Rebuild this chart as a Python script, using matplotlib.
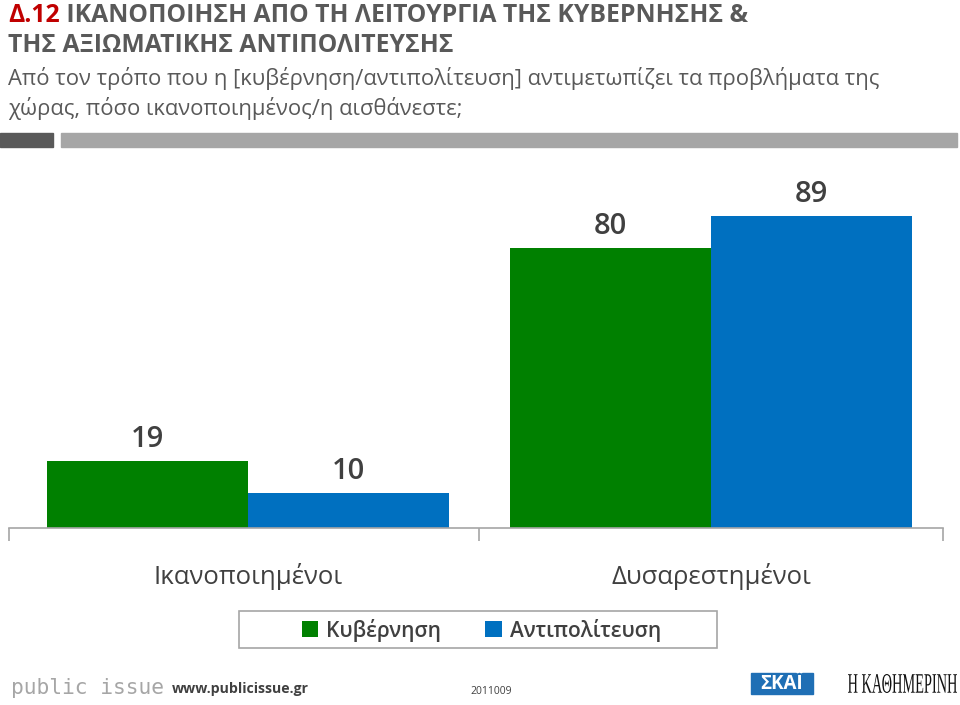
import matplotlib.pyplot as plt
from matplotlib.patches import Rectangle, PathPatch
from matplotlib.textpath import TextPath
from matplotlib.font_manager import FontProperties
from matplotlib.transforms import Affine2D

# ---------------------------------------------------------------------------
# DATA
# ---------------------------------------------------------------------------
categories = ["Ικανοποιημένοι", "Δυσαρεστημένοι"]
series_names = ["Κυβέρνηση", "Αντιπολίτευση"]
gov_values = [19, 80]
opp_values = [10, 89]

GREEN = "#008000"
BLUE = "#0070C0"
GRAY_TXT = "#595959"
VAL_TXT = "#404040"

plt.rcParams["font.family"] = ["Open Sans", "DejaVu Sans"]

fig = plt.figure(figsize=(9.6, 7.05), dpi=100)
W, H = 960, 705


def fx(px):
    return px / W


def fy(py):
    return 1 - py / H


# ---------------------------------------------------------------------------
# TITLE BLOCK
# ---------------------------------------------------------------------------
t1 = fig.text(fx(8), fy(22), "Δ.12", color="#C00000", fontsize=17.8,
              fontweight="bold", va="baseline", ha="left")
ax_dummy = fig.add_axes([0, 0, 1, 1], frameon=False)
ax_dummy.set_axis_off()
ax_dummy.annotate(" ΙΚΑΝΟΠΟΙΗΣΗ ΑΠΟ ΤΗ ΛΕΙΤΟΥΡΓΙΑ ΤΗΣ ΚΥΒΕΡΝΗΣΗΣ &",
                  xy=(1, 0), xycoords=t1, va="bottom", ha="left",
                  color=GRAY_TXT, fontsize=17.8, fontweight="bold")
fig.text(fx(8), fy(52), "ΤΗΣ ΑΞΙΩΜΑΤΙΚΗΣ ΑΝΤΙΠΟΛΙΤΕΥΣΗΣ", color=GRAY_TXT,
         fontsize=17.8, fontweight="bold", va="baseline")
fig.text(fx(8), fy(85),
         "Από τον τρόπο που η [κυβέρνηση/αντιπολίτευση] αντιμετωπίζει τα προβλήματα της",
         color=GRAY_TXT, fontsize=15.8, va="baseline")
fig.text(fx(8), fy(115), "χώρας, πόσο ικανοποιημένος/η αισθάνεστε;",
         color=GRAY_TXT, fontsize=15.8, va="baseline")

# separator bars under the title
fig.patches.append(Rectangle((fx(0), fy(147)), fx(53), 14 / H,
                             transform=fig.transFigure, color="#595959"))
fig.patches.append(Rectangle((fx(61), fy(147)), fx(896), 14 / H,
                             transform=fig.transFigure, color="#A6A6A6"))

# ---------------------------------------------------------------------------
# BAR CHART
# ---------------------------------------------------------------------------
ax = fig.add_axes([fx(9), fy(528), fx(934), 350.6 / H])
x = range(len(categories))
width = 0.434

b1 = ax.bar([i - width / 2 for i in x], gov_values, width, color=GREEN,
            label=series_names[0])
b2 = ax.bar([i + width / 2 for i in x], opp_values, width, color=BLUE,
            label=series_names[1])

for bars in (b1, b2):
    for rect in bars:
        ax.annotate(f"{rect.get_height():.0f}",
                    xy=(rect.get_x() + rect.get_width() / 2, rect.get_height()),
                    xytext=(0, 5), textcoords="offset points",
                    ha="center", va="bottom", fontsize=21,
                    fontweight="semibold", color=VAL_TXT)

ax.set_xlim(-0.515, 1.5)
ax.set_ylim(0, 100)
ax.set_yticks([])
for s in ("top", "right", "left"):
    ax.spines[s].set_visible(False)
ax.spines["bottom"].set_color("#A6A6A6")
ax.spines["bottom"].set_linewidth(1.2)

ax.set_xticks([-0.515, 0.5, 1.5])
ax.set_xticklabels([])
ax.tick_params(axis="x", which="major", length=9, color="#A6A6A6", width=1.2)
ax.set_xticks(list(x), minor=True)
ax.set_xticklabels(categories, minor=True, fontsize=18.5, color=VAL_TXT)
ax.tick_params(axis="x", which="minor", length=0, pad=25)

# legend (frame drawn separately to get the wide box)
leg = fig.legend(handles=[b1, b2], labels=series_names,
                 loc="center", bbox_to_anchor=(fx(481.5), fy(630)),
                 ncol=2, frameon=False, fontsize=15,
                 handlelength=0.8, handleheight=0.8, handletextpad=0.4,
                 columnspacing=2.1, labelcolor=VAL_TXT)
for t in leg.get_texts():
    t.set_fontweight("semibold")
fig.patches.append(Rectangle((fx(239), fy(648)), fx(478), 37 / H,
                             transform=fig.transFigure, fill=False,
                             edgecolor="#A6A6A6", linewidth=1.2))

# ---------------------------------------------------------------------------
# FOOTER
# ---------------------------------------------------------------------------
fig.text(fx(11), fy(688), "public issue", color="#A6A6A6", fontsize=15.3,
         va="center", family=["DejaVu Sans Mono"])
fig.text(fx(172), fy(689), "www.publicissue.gr", color="#404040", fontsize=10.2,
         fontweight="bold", va="center")
fig.text(fx(491), fy(692), "2011009", color="#404040", fontsize=7.5,
         ha="center", va="center")

# SKAI logo box
fig.patches.append(Rectangle((fx(751), fy(694)), fx(62), 21 / H,
                             transform=fig.transFigure, color="#1F6FB5"))
fig.text(fx(782), fy(684), "ΣΚΑΪ", color="white", fontsize=13.5,
         fontweight="bold", ha="center", va="center")

# Kathimerini wordmark, condensed via a scaled text path
tp = TextPath((0, 0), "Η ΚΑΘΗΜΕΡΙΝΗ", size=20,
              prop=FontProperties(family="Liberation Serif"))
ext = tp.get_extents()
tr = (Affine2D().translate(-ext.x0, -ext.y0)
      .scale(109 / ext.width / W, 19 / ext.height / H)
      .translate(fx(848), fy(693)) + fig.transFigure)
fig.patches.append(PathPatch(tp, transform=tr, color="#111111", lw=0))

fig.savefig("out.png", dpi=100)
